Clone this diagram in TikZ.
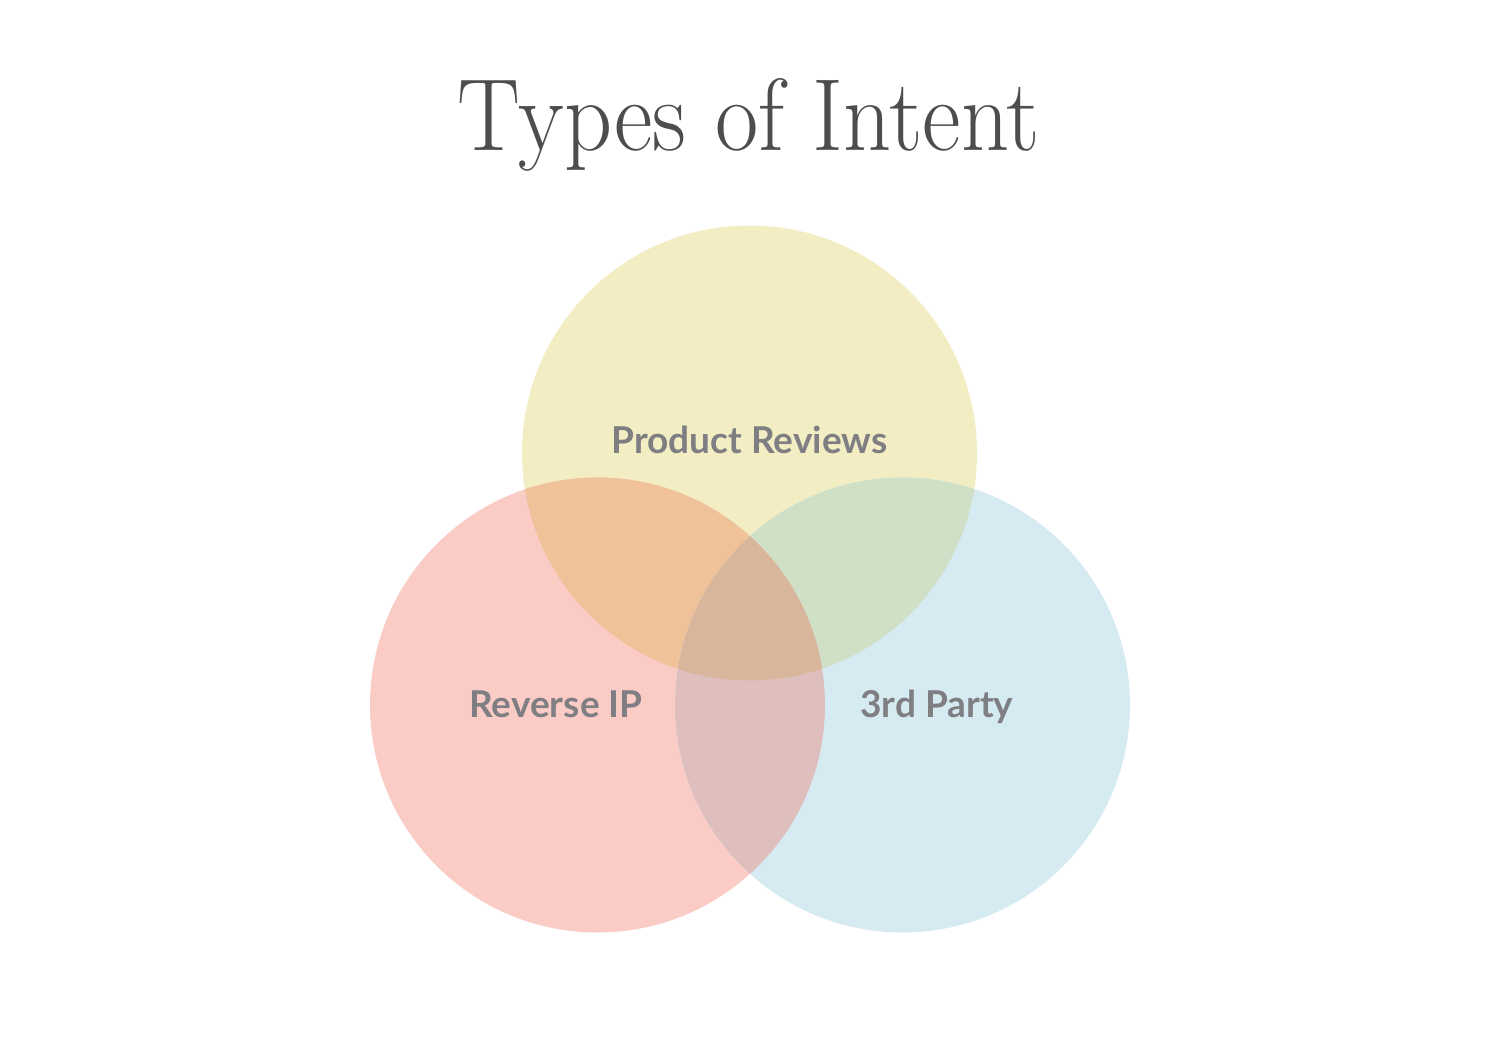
\documentclass[tikz,border=0pt]{standalone}
\usepackage{fontspec}
\newfontfamily\labelfont{Lato}
\definecolor{cy}{HTML}{F2EDC2}
\definecolor{cr}{HTML}{FACCC5}
\definecolor{cb}{HTML}{D6EAF1}
\definecolor{cry}{HTML}{F0C29A}
\definecolor{cyb}{HTML}{CFE0C7}
\definecolor{crb}{HTML}{DEBFBD}
\definecolor{call}{HTML}{D8B69B}
\definecolor{labgray}{HTML}{7E7E83}
\definecolor{titlegray}{HTML}{4D4D4D}
\tikzset{
  lab/.style={font=\labelfont\bfseries\fontsize{37}{42}\selectfont, text=labgray, inner sep=0pt, anchor=base},
}
\begin{document}
\begin{tikzpicture}[x=1pt,y=-1pt]
\useasboundingbox[fill=white] (0,0) rectangle (1500,1041);
\coordinate (Y) at (749.5,453);
\coordinate (R) at (597.5,705);
\coordinate (B) at (902.5,705);
\def\rad{227.5}
\fill[cy] (Y) circle (\rad);
\fill[cr] (R) circle (\rad);
\fill[cb] (B) circle (\rad);
\begin{scope}
  \clip (Y) circle (\rad);
  \fill[cry] (R) circle (\rad);
  \fill[cyb] (B) circle (\rad);
\end{scope}
\begin{scope}
  \clip (R) circle (\rad);
  \fill[crb] (B) circle (\rad);
  \clip (B) circle (\rad);
  \fill[call] (Y) circle (\rad);
\end{scope}
\node[inner sep=0pt, anchor=base, text=titlegray] (title) at (749,150)
  {\resizebox{582pt}{72pt}{\fontsize{100}{110}\selectfont Types of Intent}};
\node[lab] (pr) at (749.5,453) {Product Reviews};
\node[lab] (rip) at (556,717) {Reverse IP};
\node[lab] (tp) at (937,717) {3rd Party};
\end{tikzpicture}
\end{document}
